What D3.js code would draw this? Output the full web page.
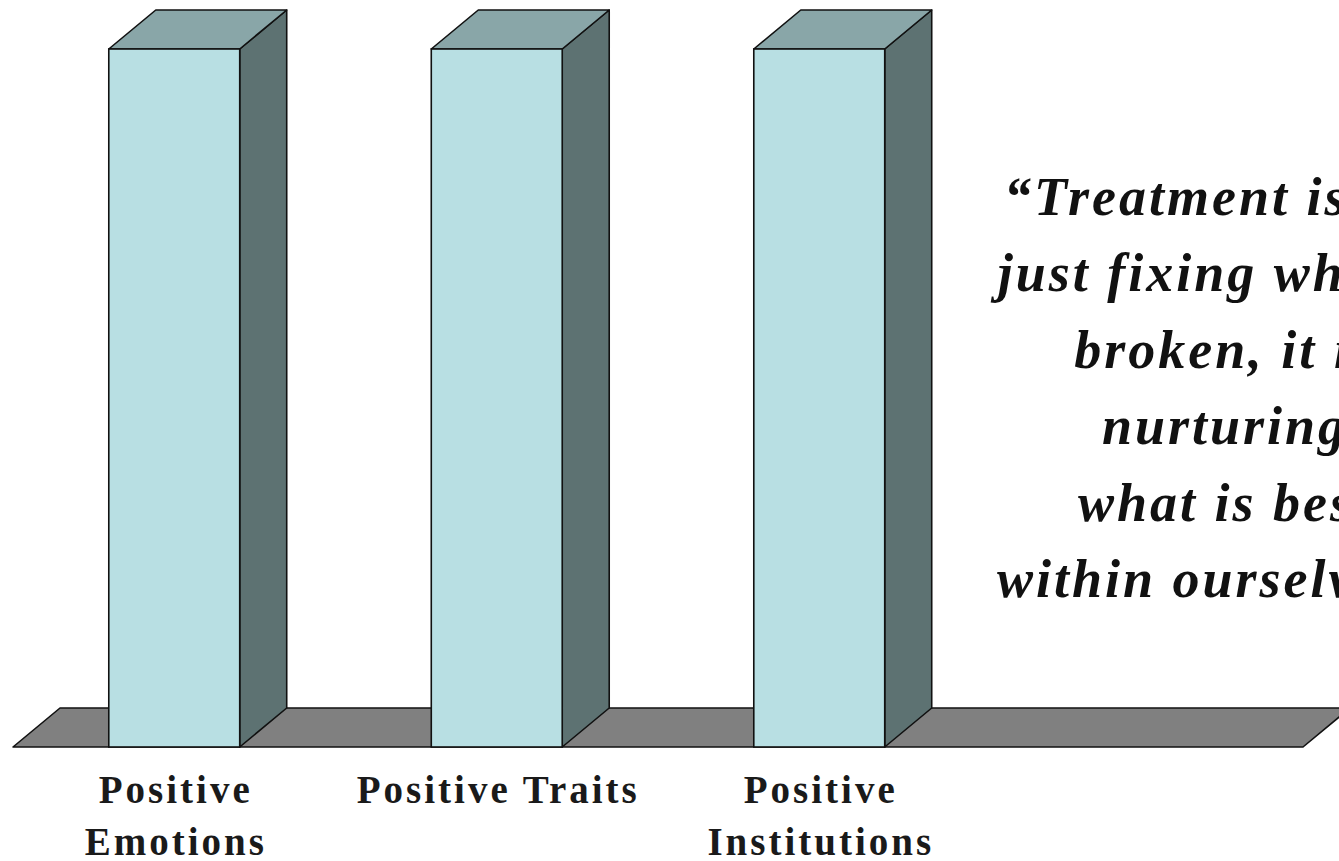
<!DOCTYPE html>
<html>
<head>
<meta charset="utf-8">
<script src="https://cdn.jsdelivr.net/npm/d3@7"></script>
<style>
  html, body { margin: 0; padding: 0; background: #ffffff; }
  svg { display: block; }
</style>
</head>
<body>
<svg id="chart" width="1339" height="861"></svg>
<script>
// ---- data ----
const categories = ["Positive Emotions", "Positive Traits", "Positive Institutions"];
const labelLines = [["Positive", "Emotions"], ["Positive Traits"], ["Positive", "Institutions"]];
const values = [100, 100, 100];
const quoteLines = [
  "\u201CTreatment is not",
  "just fixing what is",
  "broken, it is",
  "nurturing",
  "what is best",
  "within ourselves.\u201D"
];

// ---- layout ----
const W = 1339, H = 861;
const svg = d3.select("#chart");
const depthX = 47, depthY = -39;

const x = d3.scaleBand()
  .domain(categories)
  .range([13, 980.5])
  .paddingInner(0.594)
  .paddingOuter(0.297);

const y = d3.scaleLinear().domain([0, 100]).range([747, 49]);

const floorLeft = x.range()[0];
const floorRight = x.range()[1] + x.step();
const y0 = y(0);

// floor
svg.append("path")
  .attr("d", `M${floorLeft},${y0} L${floorLeft + depthX},${y0 + depthY} L${floorRight + depthX},${y0 + depthY} L${floorRight},${y0} Z`)
  .attr("fill", "#808080")
  .attr("stroke", "#111")
  .attr("stroke-width", 1.6)
  .attr("stroke-linejoin", "round");

// bars
const bars = svg.append("g").selectAll("g")
  .data(categories.map((c, i) => ({ c, v: values[i] })))
  .join("g");

bars.append("path") // side
  .attr("d", d => {
    const x1 = x(d.c) + x.bandwidth(), yt = y(d.v);
    return `M${x1},${yt} L${x1 + depthX},${yt + depthY} L${x1 + depthX},${y0 + depthY} L${x1},${y0} Z`;
  })
  .attr("fill", "#5d7272")
  .attr("stroke", "#111").attr("stroke-width", 1.6).attr("stroke-linejoin", "round");

bars.append("path") // top
  .attr("d", d => {
    const x0 = x(d.c), x1 = x0 + x.bandwidth(), yt = y(d.v);
    return `M${x0},${yt} L${x0 + depthX},${yt + depthY} L${x1 + depthX},${yt + depthY} L${x1},${yt} Z`;
  })
  .attr("fill", "#89a6a8")
  .attr("stroke", "#111").attr("stroke-width", 1.6).attr("stroke-linejoin", "round");

bars.append("rect") // front
  .attr("x", d => x(d.c))
  .attr("y", d => y(d.v))
  .attr("width", x.bandwidth())
  .attr("height", d => y0 - y(d.v))
  .attr("fill", "#b8dfe3")
  .attr("stroke", "#111").attr("stroke-width", 1.6);

// category labels
const lab = svg.append("g")
  .attr("font-family", "'Liberation Serif', 'Times New Roman', serif")
  .attr("font-weight", "bold")
  .attr("font-size", 39)
  .attr("letter-spacing", 3)
  .attr("fill", "#1a1a1a")
  .attr("text-anchor", "middle");

categories.forEach((c, i) => {
  const cx = x(c) + x.bandwidth() / 2 + 1.5;
  const t = lab.append("text").attr("x", cx).attr("y", 803);
  labelLines[i].forEach((ln, j) => {
    t.append("tspan")
      .attr("x", cx)
      .attr("y", 803 + j * 52)
      .text(ln);
  });
});

// quote
const q = svg.append("g")
  .attr("font-family", "'Liberation Serif', 'Times New Roman', serif")
  .attr("font-weight", "bold")
  .attr("font-style", "italic")
  .attr("font-size", 54)
  .attr("letter-spacing", 3)
  .attr("fill", "#111")
  .attr("text-anchor", "middle");

quoteLines.forEach((ln, i) => {
  q.append("text")
    .attr("x", 1225)
    .attr("y", 215 + i * 76.4)
    .text(ln);
});
</script>
</body>
</html>
